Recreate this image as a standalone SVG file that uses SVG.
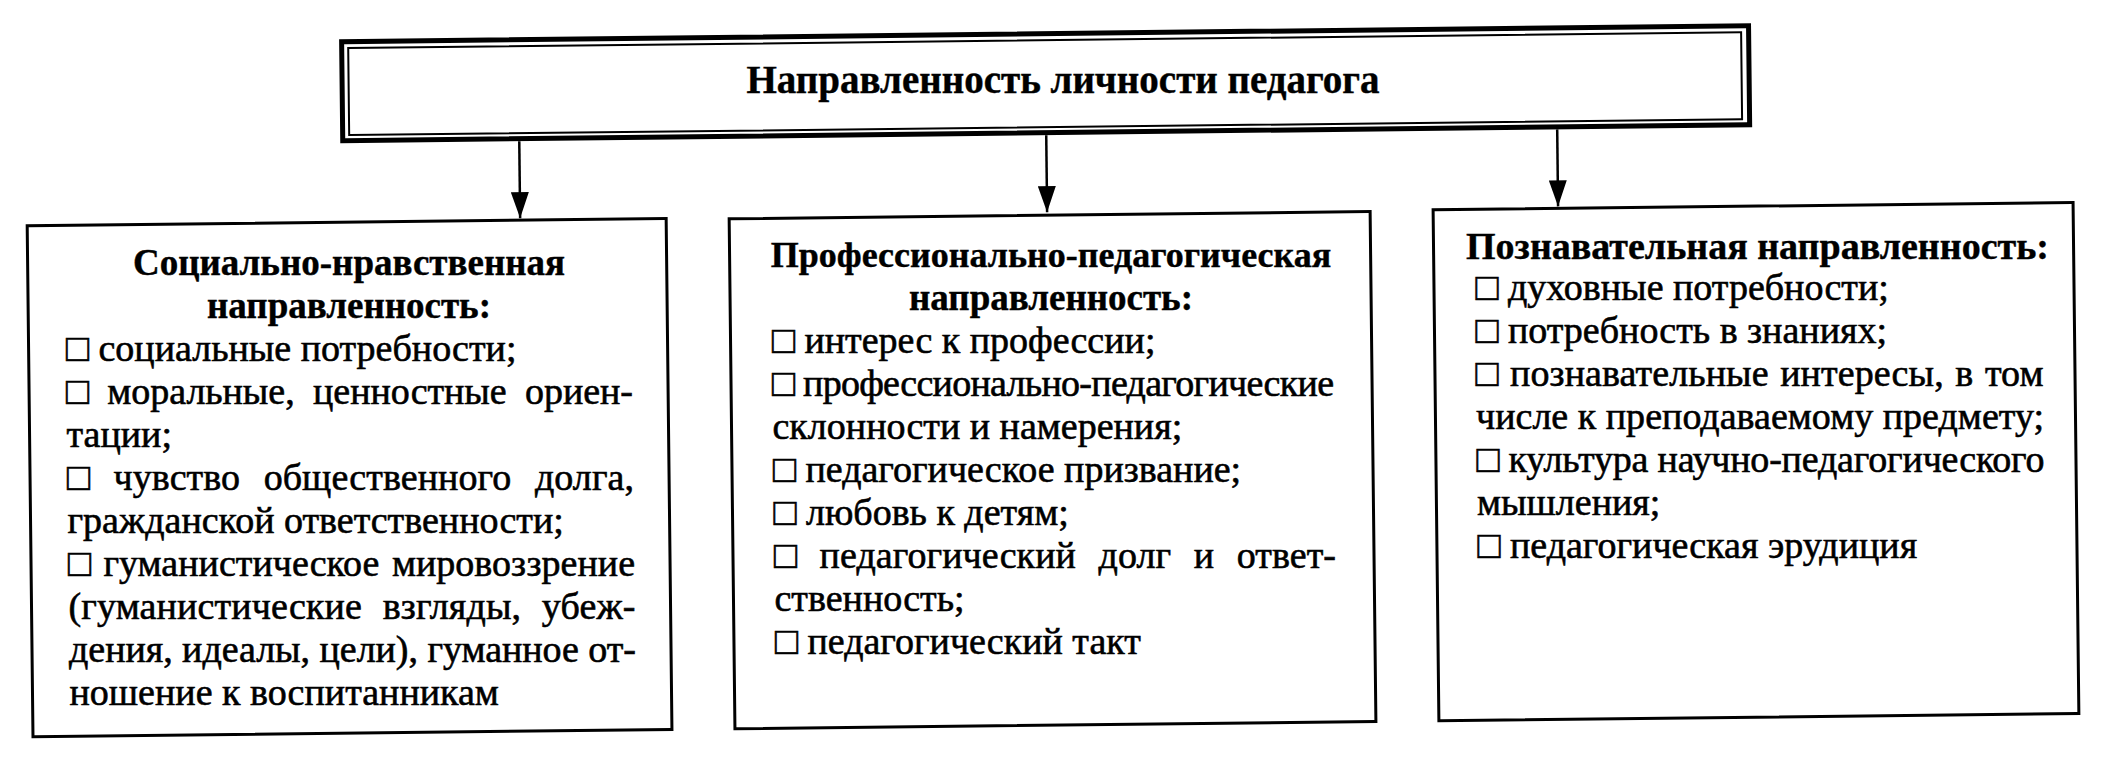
<svg xmlns="http://www.w3.org/2000/svg" width="2128" height="758" viewBox="0 0 2128 758">
<style>
.box{fill:none;stroke:#000;stroke-width:3}
.outer{fill:none;stroke:#000;stroke-width:5}
.inner{fill:none;stroke:#000;stroke-width:2}
.hd{font-family:'Liberation Serif','Times New Roman',Times,'DejaVu Serif',serif;font-weight:bold;font-size:37px;fill:#000;stroke:#000;stroke-width:0.4px;text-anchor:middle}
.tt{font-size:39px}
.tx{font-family:'Liberation Serif','Times New Roman',Times,'DejaVu Serif',serif;font-size:38px;fill:#000;stroke:#000;stroke-width:0.6px}
.conn{stroke:#000;stroke-width:2.5;fill:none}
</style>
<defs>
<marker id="ah" viewBox="0 0 26 18" refX="26" refY="9" markerWidth="26" markerHeight="18" markerUnits="userSpaceOnUse" orient="auto">
<path d="M0,0 L26,9 L0,18 z" fill="#000"/>
</marker>
</defs>
<rect width="2128" height="758" fill="#fff"/>
<g id="root">
<g transform="rotate(-0.65 1064 379)">
<rect class="outer" x="345.5" y="33.5" width="1407" height="99"/>
<rect class="inner" x="352" y="40" width="1393" height="87"/>
</g>
<text class="hd tt" x="1063" y="93">Направленность личности педагога</text>
</g>
<g id="connectors" transform="rotate(-0.65 1064 379)">
<line class="conn" x1="522" y1="135" x2="522" y2="212" marker-end="url(#ah)"/>
<line class="conn" x1="1049" y1="135" x2="1049" y2="212" marker-end="url(#ah)"/>
<line class="conn" x1="1560" y1="135" x2="1560" y2="212" marker-end="url(#ah)"/>
</g>
<g id="social">
<rect class="box" x="29" y="214" width="639" height="511" transform="rotate(-0.65 1064 379)"/>
<g transform="translate(1 8.1)">
<text class="hd" x="348" y="267">Социально-нравственная</text>
<text class="hd" x="348" y="310">направленность:</text>
<text class="tx" x="65" y="353">□ социальные потребности;</text>
<text class="tx" x="65" y="396" style="word-spacing:9px" textLength="567" lengthAdjust="spacing">□ моральные, ценностные ориен-</text>
<text class="tx" x="65.5" y="439">тации;</text>
<text class="tx" x="66" y="482" style="word-spacing:14px" textLength="567" lengthAdjust="spacing">□ чувство общественного долга,</text>
<text class="tx" x="66.5" y="525">гражданской ответственности;</text>
<text class="tx" x="67" y="568" style="word-spacing:3px" textLength="567" lengthAdjust="spacing">□ гуманистическое мировоззрение</text>
<text class="tx" x="67.5" y="611" style="word-spacing:11px" textLength="567" lengthAdjust="spacing">(гуманистические взгляды, убеж-</text>
<text class="tx" x="68" y="654" textLength="567" lengthAdjust="spacing">дения, идеалы, цели), гуманное от-</text>
<text class="tx" x="68.5" y="697">ношение к воспитанникам</text>
</g>
</g>
<g id="professional">
<rect class="box" x="731" y="215" width="641" height="510" transform="rotate(-0.65 1064 379)"/>
<g transform="translate(1 0.2)">
<text class="hd" x="1050" y="267" style="font-size:36px">Профессионально-педагогическая</text>
<text class="hd" x="1050" y="310">направленность:</text>
<text class="tx" x="771" y="353">□ интерес к профессии;</text>
<text class="tx" x="771" y="396" textLength="562" lengthAdjust="spacing">□ профессионально-педагогические</text>
<text class="tx" x="771.5" y="439">склонности и намерения;</text>
<text class="tx" x="772" y="482">□ педагогическое призвание;</text>
<text class="tx" x="772.5" y="525">□ любовь к детям;</text>
<text class="tx" x="773" y="568" style="word-spacing:13px" textLength="562" lengthAdjust="spacing">□ педагогический долг и ответ-</text>
<text class="tx" x="773.5" y="611">ственность;</text>
<text class="tx" x="774" y="654">□ педагогический такт</text>
</g>
</g>
<g id="cognitive">
<rect class="box" x="1435" y="214" width="640" height="511" transform="rotate(-0.65 1064 379)"/>
<g transform="translate(0.5 -7.8)">
<text class="hd" x="1757" y="267" style="font-size:38px">Познавательная направленность:</text>
<text class="tx" x="1475" y="308">□ духовные потребности;</text>
<text class="tx" x="1475" y="351">□ потребность в знаниях;</text>
<text class="tx" x="1475" y="394" style="word-spacing:2px" textLength="568" lengthAdjust="spacing">□ познавательные интересы, в том</text>
<text class="tx" x="1475.5" y="437" textLength="568" lengthAdjust="spacing">числе к преподаваемому предмету;</text>
<text class="tx" x="1476" y="480" textLength="568" lengthAdjust="spacing">□ культура научно-педагогического</text>
<text class="tx" x="1476.5" y="523">мышления;</text>
<text class="tx" x="1477" y="566">□ педагогическая эрудиция</text>
</g>
</g>
</svg>
